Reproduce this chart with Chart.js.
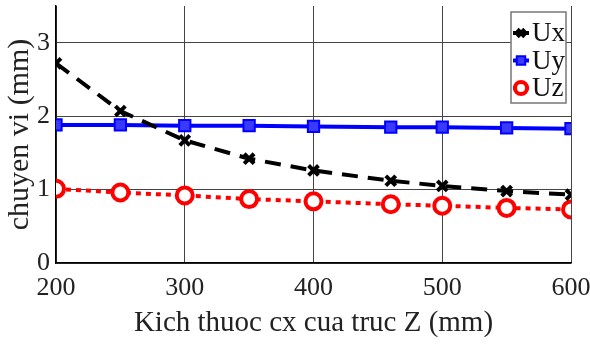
<!DOCTYPE html>
<html>
<head>
<meta charset="utf-8">
<script src="https://cdn.jsdelivr.net/npm/chart.js@4.4.0/dist/chart.umd.min.js"></script>
<style>
    html, body { margin: 0; padding: 0; background: #fff; }
</style>
</head>
<body>
<canvas id="chart" width="590" height="345"></canvas>
<script>
// cx size of the Z axis (mm)
const sizes = [200, 250, 300, 350, 400, 460, 500, 550, 600];
// displacement (mm)
const ux = [2.72, 2.07, 1.67, 1.42, 1.26, 1.12, 1.05, 0.98, 0.93];
const uy = [1.88, 1.88, 1.87, 1.87, 1.86, 1.85, 1.85, 1.84, 1.83];
const uz = [1.01, 0.96, 0.92, 0.87, 0.84, 0.80, 0.78, 0.75, 0.73];

const xTicks = [200, 300, 400, 500, 600];
const yTicks = [0, 1, 2, 3];

const serif = "'Liberation Serif', 'DejaVu Serif', serif";

// legend drawn inside the plot, top right
const boxLegend = {
    id: "boxLegend",
    afterDraw(chart) {
        const c = chart.ctx;
        const x0 = 511, y0 = 12, w = 55, h = 91;
        c.save();
        c.fillStyle = "#fff";
        c.fillRect(x0, y0, w, h);
        c.strokeStyle = "#777";
        c.lineWidth = 1.5;
        c.strokeRect(x0, y0, w, h);
        chart.data.datasets.forEach((ds, i) => {
            const y = 33 + i * 27.5;
            c.strokeStyle = ds.borderColor;
            c.lineWidth = 4;
            c.setLineDash([]);
            c.beginPath();
            c.moveTo(513, y);
            c.lineTo(529, y);
            c.stroke();
            c.fillStyle = ds.pointBackgroundColor;
            c.strokeStyle = ds.borderColor;
            c.lineWidth = ds.pointBorderWidth;
            Chart.helpers.drawPoint(c, {
                pointStyle: ds.pointStyle,
                radius: ds.pointRadius * 0.75,
                borderWidth: ds.pointBorderWidth
            }, 521, y);
            c.fillStyle = "#111";
            c.font = "27px " + serif;
            c.textBaseline = "middle";
            c.fillText(ds.label, 532, y + 1);
        });
        c.restore();
    }
};

new Chart(document.getElementById("chart").getContext("2d"), {
    type: "line",
    data: {
        datasets: [{
            label: "Ux",
            data: sizes.map((s, i) => ({ x: s, y: ux[i] })),
            borderColor: "#000",
            borderWidth: 4,
            borderDash: [16, 10],
            pointStyle: "crossRot",
            pointRadius: 7,
            pointBorderWidth: 4,
            pointBackgroundColor: "#000",
            pointBorderColor: "#000"
        }, {
            label: "Uy",
            data: sizes.map((s, i) => ({ x: s, y: uy[i] })),
            borderColor: "#0000ff",
            borderWidth: 4,
            pointStyle: "rect",
            pointRadius: 8,
            pointBorderWidth: 2,
            pointBackgroundColor: "#3a3aff",
            pointBorderColor: "#0000ff"
        }, {
            label: "Uz",
            data: sizes.map((s, i) => ({ x: s, y: uz[i] })),
            borderColor: "#ff0000",
            borderWidth: 4,
            borderDash: [5, 5],
            pointStyle: "circle",
            pointRadius: 8,
            pointBorderWidth: 4,
            pointBackgroundColor: "#fff",
            pointBorderColor: "#ff0000"
        }]
    },
    options: {
        responsive: false,
        animation: false,
        layout: { autoPadding: false, padding: { top: 6, right: 19, left: 0, bottom: 0 } },
        plugins: {
            legend: { display: false },
            tooltip: { enabled: false }
        },
        scales: {
            x: {
                type: "linear",
                min: 200,
                max: 600,
                afterBuildTicks: s => { s.ticks = xTicks.map(v => ({ value: v })); },
                afterFit: s => { s.height = 82; s.paddingLeft = 0; s.paddingRight = 0; },
                border: { color: "#000", width: 1.5 },
                grid: { color: "#444", lineWidth: 1, drawTicks: false },
                ticks: { color: "#222", padding: 10, font: { family: serif, size: 26 } },
                title: {
                    display: true,
                    text: "Kich thuoc cx cua truc Z (mm)",
                    color: "#222",
                    padding: { top: 0, bottom: 4 },
                    font: { family: serif, size: 29 }
                }
            },
            y: {
                min: 0,
                max: 3.5,
                afterBuildTicks: s => { s.ticks = yTicks.map(v => ({ value: v })); },
                afterFit: s => { s.width = 56; s.paddingTop = 0; s.paddingBottom = 0; },
                border: { color: "#000", width: 1.5 },
                grid: { color: "#444", lineWidth: 1, drawTicks: false },
                ticks: { color: "#222", padding: 6, font: { family: serif, size: 26 } },
                title: {
                    display: true,
                    text: "chuyen vi (mm)",
                    color: "#222",
                    padding: { top: 2, bottom: 0 },
                    font: { family: serif, size: 30 }
                }
            }
        }
    },
    plugins: [boxLegend]
});
</script>
</body>
</html>
